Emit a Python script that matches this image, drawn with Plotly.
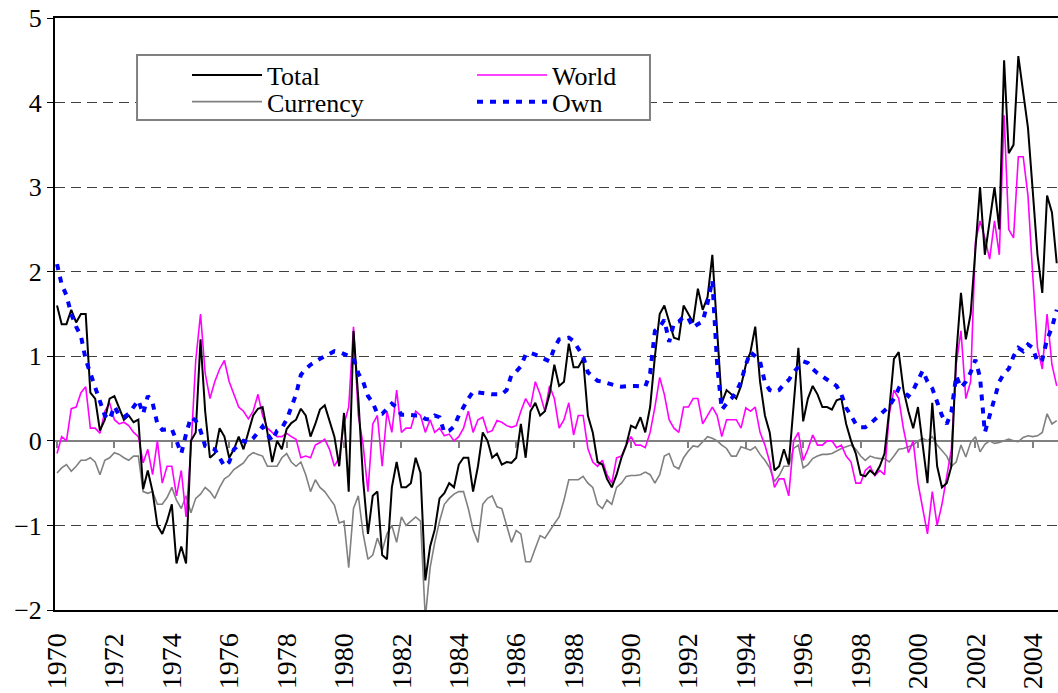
import pandas as pd
import plotly.graph_objects as go

# bi-monthly observations, Jan 1970 - Nov 2004 (6 values per year)
dates = pd.date_range("1970-01-01", "2004-11-01", freq="2MS")

total = [
    1.6, 1.38, 1.38, 1.55, 1.4, 1.5,  # 1970
    1.5, 0.57, 0.5, 0.12, 0.25, 0.5,
    0.53, 0.4, 0.25, 0.3, 0.22, 0.25,
    -0.57, -0.35, -0.6, -1.0, -1.1, -0.95,
    -0.75, -1.45, -1.25, -1.45, 0.0, 0.1,
    1.2, 0.35, -0.2, -0.15, 0.15, 0.05,  # 1975
    -0.2, -0.1, 0.05, -0.1, 0.1, 0.3,
    0.38, 0.4, 0.1, -0.25, 0.0, -0.1,
    0.14, 0.21, 0.25, 0.38, 0.3, 0.05,
    0.2, 0.37, 0.42, 0.25, 0.05, -0.3,
    0.33, -0.6, 1.3, 0.5, -0.47, -1.1,  # 1980
    -0.65, -0.6, -1.35, -1.4, -0.55, -0.25,
    -0.55, -0.55, -0.5, -0.2, -0.38, -1.65,
    -1.25, -1.05, -0.68, -0.62, -0.5, -0.55,
    -0.28, -0.2, -0.2, -0.6, -0.3, 0.1,
    0.0, -0.2, -0.15, -0.28, -0.25, -0.26,  # 1985
    -0.2, 0.2, -0.2, 0.35, 0.45, 0.3,
    0.35, 0.55, 0.9, 0.65, 0.7, 1.15,
    0.87, 0.87, 0.97, 0.3, 0.1, -0.25,
    -0.28, -0.45, -0.55, -0.4, -0.2, -0.05,
    0.18, 0.15, 0.28, 0.1, 0.4, 1.0,  # 1990
    1.5, 1.6, 1.4, 1.22, 1.2, 1.6,
    1.5, 1.4, 1.8, 1.55, 1.7, 2.2,
    1.3, 0.45, 0.6, 0.55, 0.5, 0.65,
    0.9, 1.05, 1.35, 0.7, 0.3, 0.1,
    -0.35, -0.3, -0.1, -0.28, 0.45, 1.1,  # 1995
    0.23, 0.5, 0.65, 0.55, 0.4, 0.4,
    0.37, 0.48, 0.5, 0.2, 0.0, -0.15,
    -0.4, -0.42, -0.35, -0.4, -0.3, -0.15,
    0.37, 0.97, 1.05, 0.6, 0.35, 0.15,
    0.4, -0.05, -0.5, 0.45, -0.3, -0.55,  # 2000
    -0.5, -0.3, 1.0, 1.75, 1.2, 1.5,
    2.3, 3.0, 2.2, 2.6, 3.0, 2.5,
    4.5, 3.4, 3.5, 4.55, 4.1, 3.7,
    2.95, 2.2, 1.75, 2.9, 2.7, 2.1,
]

world = [
    -0.15, 0.05, 0.0, 0.38, 0.4, 0.57,  # 1970
    0.64, 0.15, 0.15, 0.09, 0.35, 0.45,
    0.25, 0.2, 0.22, 0.18, 0.1, 0.05,
    -0.26, -0.1, -0.4, 0.0, -0.5, -0.3,
    -0.3, -0.65, -0.35, -0.9, -0.1, 0.95,
    1.5, 0.8, 0.5, 0.7, 0.85, 0.95,  # 1975
    0.7, 0.55, 0.4, 0.35, 0.26, 0.35,
    0.55, 0.3, 0.15, 0.1, 0.05, 0.05,
    0.09, 0.05, 0.02, -0.2, -0.18, -0.2,
    -0.05, -0.02, 0.02, -0.1, -0.3, -0.2,
    0.2, 0.4, 1.35, 0.3, -0.05, -0.6,  # 1980
    0.2, 0.3, -0.3, 0.35, 0.1, 0.6,
    0.1, 0.15, 0.15, 0.35, 0.3, 0.1,
    0.25, 0.1, 0.15, 0.06, 0.08, 0.0,
    0.05, 0.15, 0.35, 0.1, 0.25, 0.28,
    0.1, 0.12, 0.24, 0.22, 0.18, 0.16,  # 1985
    0.18, 0.35, 0.5, 0.4, 0.7, 0.55,
    0.35, 0.65, 0.5, 0.15, 0.25, 0.45,
    0.07, 0.3, 0.3, -0.09, -0.25, -0.3,
    -0.23, -0.4, -0.5, -0.2, -0.18, -0.05,
    0.05, -0.05, -0.05, -0.08, 0.1, 0.4,  # 1990
    0.75, 0.55, 0.25, 0.15, 0.1, 0.4,
    0.4, 0.5, 0.5, 0.2, 0.3, 0.4,
    0.3, 0.05, 0.25, 0.25, 0.25, 0.15,
    0.39, 0.35, 0.4, 0.1, -0.05, -0.25,
    -0.55, -0.45, -0.45, -0.65, 0.0, 0.1,  # 1995
    -0.23, -0.1, 0.07, -0.05, -0.05, 0.0,
    0.0, -0.08, -0.05, -0.18, -0.25, -0.5,
    -0.5, -0.35, -0.3, -0.41, -0.35, -0.4,
    0.32, 0.6, 0.5, 0.14, -0.14, 0.0,
    -0.5, -0.8, -1.1, -0.6, -1.0, -0.75,  # 2000
    -0.4, -0.1, 0.9, 1.3, 0.5, 0.7,
    2.35, 2.6, 2.4, 2.15, 2.6, 2.2,
    3.85, 2.5, 2.4, 3.36, 3.36, 2.9,
    1.95, 1.1, 0.85, 1.5, 0.9, 0.65,
]

currency = [
    -0.38, -0.32, -0.28, -0.36, -0.3, -0.23,  # 1970
    -0.23, -0.2, -0.25, -0.4, -0.23, -0.2,
    -0.14, -0.16, -0.2, -0.23, -0.18, -0.18,
    -0.6, -0.62, -0.6, -0.75, -0.75, -0.67,
    -0.55, -0.7, -0.8, -0.65, -0.85, -0.68,
    -0.63, -0.55, -0.6, -0.68, -0.55, -0.45,  # 1975
    -0.41, -0.34, -0.3, -0.26, -0.18, -0.14,
    -0.16, -0.18, -0.3, -0.3, -0.3, -0.2,
    -0.15, -0.25, -0.3, -0.25, -0.4, -0.6,
    -0.46, -0.55, -0.6, -0.68, -0.76, -0.97,
    -0.95, -1.5, -0.8, -0.65, -1.1, -1.4,  # 1980
    -1.35, -1.15, -1.3, -1.1, -1.0, -1.2,
    -0.9, -1.0, -0.95, -0.9, -0.95, -2.1,
    -1.5, -1.2, -0.95, -0.75, -0.68, -0.63,
    -0.6, -0.6, -0.8, -1.05, -1.2, -0.75,
    -0.68, -0.65, -0.78, -0.8, -1.0, -1.2,  # 1985
    -1.06, -1.1, -1.43, -1.43, -1.27, -1.12,
    -1.15, -1.06, -0.98, -0.9, -0.7, -0.46,
    -0.46, -0.46, -0.42, -0.5, -0.55, -0.75,
    -0.8, -0.7, -0.75, -0.55, -0.5, -0.42,
    -0.41, -0.41, -0.4, -0.37, -0.4, -0.5,  # 1990
    -0.4, -0.18, -0.15, -0.3, -0.33, -0.2,
    -0.12, -0.06, -0.07, -0.01, 0.05, 0.03,
    0.0, -0.05, -0.09, -0.18, -0.18, -0.07,
    -0.09, -0.11, -0.07, -0.16, -0.23, -0.32,
    -0.48, -0.41, -0.3, -0.3, -0.09, -0.05,  # 1995
    -0.32, -0.28, -0.21, -0.18, -0.16, -0.16,
    -0.15, -0.12, -0.09, -0.07, -0.05, -0.1,
    -0.18, -0.23, -0.18, -0.2, -0.21, -0.21,
    -0.25, -0.18, -0.1, -0.09, -0.07, -0.05,
    0.0, 0.03, 0.0, 0.05, -0.05, -0.12,  # 2000
    -0.18, -0.3, -0.25, -0.05, -0.19, -0.02,
    0.05, -0.13, -0.04, 0.0, -0.03, -0.02,
    0.0, 0.02, 0.0, -0.01, 0.04, 0.06,
    0.05, 0.06, 0.1, 0.32, 0.2, 0.24,
]

own = [
    2.09, 1.85, 1.72, 1.5, 1.35, 1.24,  # 1970
    0.96, 0.8, 0.6, 0.46, 0.3, 0.25,
    0.41, 0.3, 0.28, 0.32, 0.4, 0.48,
    0.32, 0.53, 0.45, 0.2, 0.13, 0.13,
    0.14, 0.0, -0.15, 0.08, 0.28, 0.24,
    0.12, -0.06, -0.08, -0.1, -0.2, -0.3,  # 1975
    -0.25, -0.1, -0.05, 0.0, -0.02, 0.03,
    0.1, 0.17, 0.08, 0.0, 0.12, 0.15,
    0.25, 0.4, 0.55, 0.78, 0.85, 0.9,
    0.94, 0.97, 1.0, 1.03, 1.06, 1.05,
    1.03, 1.0, 0.98, 0.8, 0.7, 0.53,  # 1980
    0.45, 0.32, 0.32, 0.38, 0.44, 0.4,
    0.31, 0.31, 0.3, 0.3, 0.3, 0.26,
    0.25, 0.3, 0.28, 0.1, 0.12, 0.17,
    0.3, 0.41, 0.5, 0.58, 0.57, 0.56,
    0.55, 0.55, 0.55, 0.55, 0.6, 0.78,  # 1985
    0.82, 0.88, 1.02, 1.04, 1.02, 0.99,
    0.96, 0.94, 1.1, 1.2, 1.21, 1.22,
    1.18, 1.08, 1.0, 0.81, 0.76, 0.71,
    0.7, 0.68, 0.67, 0.65, 0.64, 0.65,
    0.65, 0.65, 0.65, 0.64, 0.8, 1.3,  # 1990
    1.35, 1.43, 1.17, 1.39, 1.41, 1.47,
    1.45, 1.34, 1.38, 1.41, 1.63, 1.9,
    0.9, 0.37, 0.44, 0.5, 0.58, 0.7,
    0.9, 1.05, 1.0, 0.94, 0.69, 0.6,
    0.58, 0.6, 0.67, 0.72, 0.81, 0.88,  # 1995
    0.94, 0.92, 0.85, 0.8, 0.76, 0.72,
    0.68, 0.65, 0.55, 0.39, 0.3, 0.2,
    0.16, 0.16, 0.2, 0.25, 0.3, 0.35,
    0.41, 0.5, 0.62, 0.58, 0.53, 0.6,
    0.71, 0.83, 0.7, 0.62, 0.46, 0.3,  # 2000
    0.2, 0.34, 0.77, 0.63, 0.7, 0.81,
    0.96, 0.75, 0.1, 0.3, 0.51, 0.7,
    0.8, 0.85, 1.0, 1.1, 1.06, 1.14,
    1.1, 0.93, 0.96, 1.2, 1.34, 1.55,
]

x_range = ["1969-12-06", "2004-11-17"]
serif = "Liberation Serif, Times New Roman, serif"

fig = go.Figure()
fig.add_trace(go.Scatter(x=dates, y=currency, mode="lines", name="Currency",
                         legend="legend2", legendrank=3,
                         line=dict(color="#808080", width=1.6)))
fig.add_trace(go.Scatter(x=dates, y=world, mode="lines", name="World",
                         legend="legend", legendrank=2,
                         line=dict(color="#FF00FF", width=1.6)))
fig.add_trace(go.Scatter(x=dates, y=total, mode="lines", name="Total",
                         legend="legend", legendrank=1,
                         line=dict(color="black", width=2)))
fig.add_trace(go.Scatter(x=dates, y=own, mode="lines", name="Own",
                         legend="legend2", legendrank=4,
                         line=dict(color="#0000FF", width=4, dash="6px,7px")))
# empty trace so the zero-line tick axis gets drawn
fig.add_trace(go.Scatter(x=[dates[0]], y=[None], xaxis="x2", showlegend=False,
                         hoverinfo="skip"))

legend_style = dict(
    orientation="h", xanchor="left", yanchor="middle", x=0.1316,
    entrywidth=200, entrywidthmode="pixels", itemwidth=70,
    bgcolor="rgba(0,0,0,0)", borderwidth=0,
    font=dict(family=serif, size=26, color="black"),
)

fig.update_layout(
    width=1058,
    height=693,
    margin=dict(l=55, r=0, t=18, b=83),
    paper_bgcolor="white",
    plot_bgcolor="white",
    font=dict(family=serif, size=26, color="black"),
    showlegend=True,
    legend=dict(legend_style, y=0.9035),
    legend2=dict(legend_style, y=0.8585),
    xaxis=dict(
        type="date", range=x_range, tick0="1970-01-01", dtick="M24",
        tickformat="%Y", tickangle=-90, ticks="", ticklabelstandoff=10,
        tickfont=dict(size=28), ticklabeloverflow="allow",
        showgrid=False, zeroline=False, automargin=False,
        showline=True, linecolor="black", linewidth=2, mirror=True,
    ),
    # tick marks sitting on the zero line
    xaxis2=dict(
        type="date", overlaying="x", anchor="free", position=2 / 7,
        range=x_range, tick0="1970-01-01", dtick="M24",
        ticks="outside", ticklen=6, tickwidth=1.5, tickcolor="#808080",
        showticklabels=False, showgrid=False, showline=False, zeroline=False,
        automargin=False,
    ),
    yaxis=dict(
        range=[-2, 5], dtick=1, automargin=False, ticklabeloverflow="allow",
        showgrid=True, gridcolor="#404040", gridwidth=1, griddash="10px,6px",
        zeroline=True, zerolinecolor="#808080", zerolinewidth=2,
        showline=True, linecolor="black", linewidth=2,
        ticks="outside", ticklen=6, tickcolor="black",
    ),
    shapes=[
        # legend frame
        dict(type="rect", xref="paper", yref="paper",
             x0=0.0818, x1=0.5932, y0=0.8277, y1=0.9375,
             fillcolor="white", line=dict(color="#808080", width=2),
             layer="above"),
    ],
)

# drop the default 8px page margin so the figure fills the window exactly
fig.write_html("out.html",
               config={"displayModeBar": False},
               post_script="document.body.style.margin='0';")
